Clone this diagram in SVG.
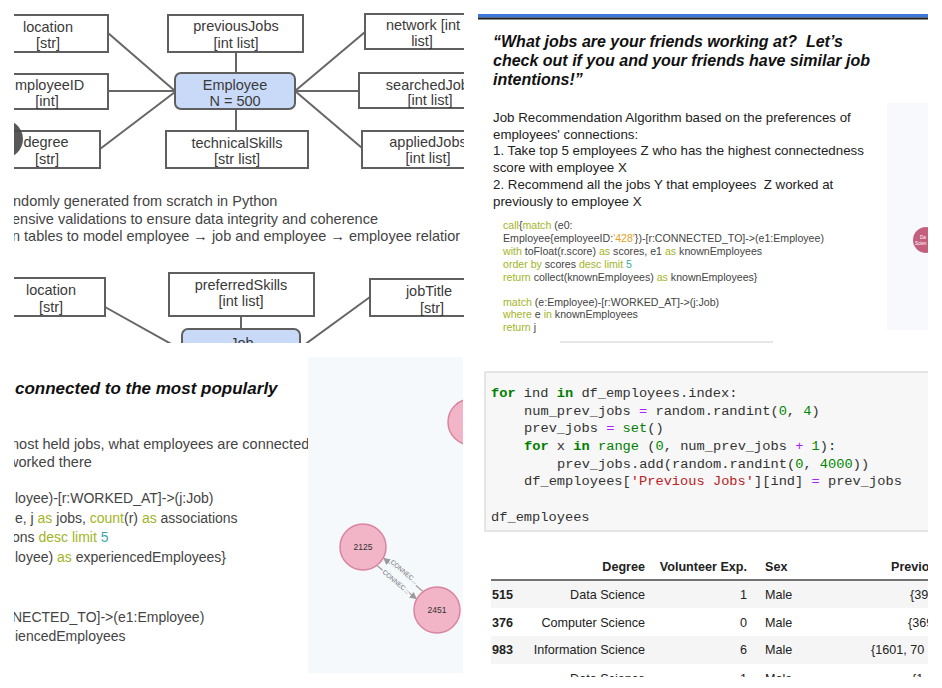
<svg xmlns="http://www.w3.org/2000/svg" width="942" height="688" viewBox="0 0 942 688">
<defs>
<style>
.box{fill:#fff;stroke:#5f5f5f;stroke-width:2}
.ent{fill:#c9daf8;stroke:#5f5f5f;stroke-width:2}
.lb{font-family:"Liberation Sans",Arial,sans-serif;font-size:14.5px;fill:#3a3a3a;text-anchor:middle}
.lbs{font-family:"Liberation Sans",Arial,sans-serif;font-size:14.5px;fill:#3a3a3a}
.ed{stroke:#666;stroke-width:2;fill:none}
.bul{font-family:"Liberation Sans",Arial,sans-serif;font-size:14.5px;fill:#444}
.ttl{font-family:"Liberation Sans",Arial,sans-serif;font-weight:bold;font-style:italic;fill:#111}
.body{font-family:"Liberation Sans",Arial,sans-serif;font-size:13.3px;fill:#222}
.cy{font-family:"Liberation Sans",Arial,sans-serif;fill:#444}
.k{fill:#a3b428}
.o{fill:#e2a020}
.n{fill:#3aa8a8}
.py{font-family:"Liberation Mono","DejaVu Sans Mono",monospace;font-size:13.7px;fill:#333}
.pk{fill:#008000;font-weight:bold}
.pb{fill:#008000}
.pn{fill:#080}
.po{fill:#a2f}
.ps{fill:#ba2121}
.tb{font-family:"Liberation Sans",Arial,sans-serif;font-size:12.6px;fill:#222}
.th{font-weight:bold}
.re{text-anchor:end}
.nd{fill:#f2b5c7;stroke:#d9849f;stroke-width:1.5}
.nt{font-family:"Liberation Sans",Arial,sans-serif;font-size:8.5px;fill:#333;text-anchor:middle}
.rel{stroke:#9a9a9a;stroke-width:1.2;fill:none}
.rt{font-family:"Liberation Sans",Arial,sans-serif;font-size:6.5px;fill:#777;text-anchor:middle;stroke:#f5f9fc;stroke-width:3px;paint-order:stroke}
</style>
<clipPath id="cTL"><rect x="14" y="0" width="450" height="343"/></clipPath>
<clipPath id="cTR"><rect x="478" y="0" width="450" height="343"/></clipPath>
<clipPath id="cBL"><rect x="14" y="345" width="449" height="343"/></clipPath>
<clipPath id="cBR"><rect x="478" y="345" width="450" height="332"/></clipPath>
<marker id="ah" viewBox="0 0 10 10" refX="9" refY="5" markerWidth="6" markerHeight="6" orient="auto"><path d="M0,0 L10,5 L0,10 z" fill="#9a9a9a"/></marker>
</defs>
<rect width="942" height="688" fill="#fff"/>

<!-- TOP-LEFT: schema diagrams -->
<g clip-path="url(#cTL)">
  <g id="connectors">
    <line class="ed" x1="108" y1="33" x2="175" y2="91"/>
    <line class="ed" x1="108" y1="91" x2="175" y2="91"/>
    <line class="ed" x1="100" y1="149" x2="175" y2="92"/>
    <line class="ed" x1="236" y1="52" x2="236" y2="73"/>
    <line class="ed" x1="236" y1="131" x2="236" y2="109"/>
    <line class="ed" x1="295" y1="91" x2="365" y2="32"/>
    <line class="ed" x1="295" y1="91" x2="359" y2="91"/>
    <line class="ed" x1="295" y1="91" x2="362" y2="148"/>
    <line class="ed" x1="105" y1="307" x2="182" y2="350"/>
    <line class="ed" x1="241" y1="316" x2="241" y2="329"/>
    <line class="ed" x1="370" y1="297" x2="300" y2="348"/>
  </g>
  <g id="node-location">
    <rect class="box" x="-12" y="15" width="120" height="37"/>
    <text class="lb" x="48" y="32">location</text>
    <text class="lb" x="48" y="48">[str]</text>
  </g>
  <g id="node-employeeID">
    <rect class="box" x="-12" y="74" width="120" height="35"/>
    <text class="lbs" x="15" y="90">mployeeID</text>
    <text class="lb" x="47" y="106">[int]</text>
  </g>
  <g id="node-degree">
    <rect class="box" x="-8" y="131" width="108" height="37"/>
    <text class="lb" x="46" y="147">degree</text>
    <text class="lb" x="47" y="164">[str]</text>
  </g>
  <circle cx="4" cy="139" r="19" fill="#4a4a4a" opacity="0.92"/>
  <g id="node-previousJobs">
    <rect class="box" x="168" y="15" width="135" height="37"/>
    <text class="lb" x="236" y="31">previousJobs</text>
    <text class="lb" x="236" y="48">[int list]</text>
  </g>
  <g id="node-employee">
    <rect class="ent" x="175" y="73" width="120" height="36" rx="6"/>
    <text class="lb" x="235" y="90">Employee</text>
    <text class="lb" x="235" y="106">N = 500</text>
  </g>
  <g id="node-technicalSkills">
    <rect class="box" x="166" y="131" width="142" height="37"/>
    <text class="lb" x="237" y="148">technicalSkills</text>
    <text class="lb" x="237" y="164">[str list]</text>
  </g>
  <g id="node-network">
    <rect class="box" x="365" y="14" width="114" height="35"/>
    <text class="lb" x="423" y="30">network [int</text>
    <text class="lb" x="422" y="46">list]</text>
  </g>
  <g id="node-searchedJobs">
    <rect class="box" x="359" y="73" width="144" height="35"/>
    <text class="lb" x="431" y="90">searchedJobs</text>
    <text class="lb" x="430" y="105">[int list]</text>
  </g>
  <g id="node-appliedJobs">
    <rect class="box" x="362" y="131" width="132" height="37"/>
    <text class="lb" x="428" y="147">appliedJobs</text>
    <text class="lb" x="428" y="163">[int list]</text>
  </g>
  <text class="bul" x="13" y="206">ndomly generated from scratch in Python</text>
  <text class="bul" x="12" y="224">ensive validations to ensure data integrity and coherence</text>
  <text class="bul" x="12" y="241">n tables to model employee → job and employee → employee relatior</text>
  <g id="node-job-location">
    <rect class="box" x="-12" y="278" width="117" height="38"/>
    <text class="lb" x="51" y="295">location</text>
    <text class="lb" x="51" y="312">[str]</text>
  </g>
  <g id="node-preferredSkills">
    <rect class="box" x="169" y="273" width="145" height="43"/>
    <text class="lb" x="241" y="290">preferredSkills</text>
    <text class="lb" x="241" y="306">[int list]</text>
  </g>
  <g id="node-job">
    <rect class="ent" x="182" y="329" width="118" height="40" rx="6"/>
    <text class="lb" x="242" y="348">Job</text>
  </g>
  <g id="node-jobTitle">
    <rect class="box" x="370" y="279" width="130" height="37"/>
    <text class="lb" x="429" y="296">jobTitle</text>
    <text class="lb" x="432" y="313">[str]</text>
  </g>
</g>

<!-- TOP-RIGHT: slide -->
<g clip-path="url(#cTR)">
  <rect x="478" y="14" width="450" height="3.5" fill="#3c78d8"/>
  <rect x="478" y="17.5" width="450" height="2" fill="#1f1f1f"/>
  <text class="ttl" font-size="16px"><tspan x="493" y="47">“What jobs are your friends working at?&#160; Let’s</tspan><tspan x="493" y="66">check out if you and your friends have similar job</tspan><tspan x="493" y="85">intentions!”</tspan></text>
  <text class="body"><tspan x="493" y="122">Job Recommendation Algorithm based on the preferences of</tspan><tspan x="493" y="138.7">employees' connections:</tspan><tspan x="493" y="155.4">1. Take top 5 employees Z who has the highest connectedness</tspan><tspan x="493" y="172.1">score with employee X</tspan><tspan x="493" y="188.8">2. Recommend all the jobs Y that employees&#160; Z worked at</tspan><tspan x="493" y="205.5">previously to employee X</tspan></text>
  <g class="cy" font-size="10.6px">
    <text x="503" y="228.5"><tspan class="k">call</tspan>{<tspan class="k">match</tspan> (e0:</text>
    <text x="503" y="241.5">Employee{employeeID:<tspan class="o">'428'</tspan>})-[r:CONNECTED_TO]-&gt;(e1:Employee)</text>
    <text x="503" y="255"><tspan class="k">with</tspan> toFloat(r.score) <tspan class="k">as</tspan> scores, e1 <tspan class="k">as</tspan> knownEmployees</text>
    <text x="503" y="268"><tspan class="k">order by</tspan> scores <tspan class="k">desc limit</tspan> <tspan class="n">5</tspan></text>
    <text x="503" y="280.5"><tspan class="k">return</tspan> collect(knownEmployees) <tspan class="k">as</tspan> knownEmployees}</text>
    <text x="503" y="305.5"><tspan class="k">match</tspan> (e:Employee)-[r:WORKED_AT]-&gt;(j:Job)</text>
    <text x="503" y="318"><tspan class="k">where</tspan> e <tspan class="k">in</tspan> knownEmployees</text>
    <text x="503" y="330.5"><tspan class="k">return</tspan> j</text>
  </g>
  <line x1="560" y1="342" x2="773" y2="342" stroke="#cfcfcf" stroke-width="1"/>
  <rect x="887" y="103" width="41" height="227" fill="#f7f9fc"/>
  <g id="node-datascience">
    <circle cx="926" cy="240" r="13" fill="#c4607e"/>
    <text x="920" y="239" font-family="Liberation Sans, Arial, sans-serif" font-size="4.5px" fill="#fff">Da</text>
    <text x="915" y="245" font-family="Liberation Sans, Arial, sans-serif" font-size="4.5px" fill="#fff">Scien</text>
  </g>
</g>

<!-- BOTTOM-LEFT: slide with graph -->
<g clip-path="url(#cBL)">
  <text class="ttl" font-size="17px" x="15" y="394">connected to the most popularly</text>
  <text class="bul" font-size="14px"><tspan x="7" y="449">most held jobs, what employees are connected</tspan><tspan x="8" y="467">worked there</tspan></text>
  <g class="cy" font-size="14px">
    <text x="15" y="503">loyee)-[r:WORKED_AT]-&gt;(j:Job)</text>
    <text x="15" y="523">e, j <tspan class="k">as</tspan> jobs, <tspan class="k">count</tspan>(r) <tspan class="k">as</tspan> associations</text>
    <text x="12" y="542">ons <tspan class="k">desc limit</tspan> <tspan class="n">5</tspan></text>
    <text x="15" y="562">loyee) <tspan class="k">as</tspan> experiencedEmployees}</text>
    <text x="12" y="622">NECTED_TO]-&gt;(e1:Employee)</text>
    <text x="15" y="641">iencedEmployees</text>
  </g>
  <rect x="308" y="357" width="155" height="316" fill="#f5f9fc"/>
  <g id="graph-connectors">
    <line class="rel" x1="422.7" y1="591.3" x2="383.7" y2="558.1" marker-end="url(#ah)"/>
    <line class="rel" x1="377.3" y1="565.7" x2="416.3" y2="598.9" marker-end="url(#ah)"/>
    <text class="rt" x="404" y="574" transform="rotate(40.4 404 572)">CONNEC...</text>
    <text class="rt" x="396" y="584" transform="rotate(40.4 396 582)">CONNEC...</text>
  </g>
  <g id="node-2125">
    <circle class="nd" cx="363" cy="547" r="23"/>
    <text class="nt" x="363" y="550">2125</text>
  </g>
  <g id="node-2451">
    <circle class="nd" cx="437" cy="610" r="23"/>
    <text class="nt" x="437" y="613">2451</text>
  </g>
  <g id="node-partial">
    <circle class="nd" cx="471" cy="422" r="23"/>
    <text class="nt" x="466" y="425">2</text>
  </g>
</g>

<!-- BOTTOM-RIGHT: notebook -->
<g clip-path="url(#cBR)">
  <rect x="485" y="372" width="460" height="159" fill="#f7f7f7" stroke="#cfcfcf" stroke-width="1"/>
  <g class="py">
    <text x="491" y="397"><tspan class="pk">for</tspan> ind <tspan class="pk">in</tspan> df_employees.index:</text>
    <text x="524" y="414.7">num_prev_jobs <tspan class="po">=</tspan> random.randint(<tspan class="pn">0</tspan>, <tspan class="pn">4</tspan>)</text>
    <text x="524" y="432.3">prev_jobs <tspan class="po">=</tspan> <tspan class="pb">set</tspan>()</text>
    <text x="524" y="450"><tspan class="pk">for</tspan> x <tspan class="pk">in</tspan> <tspan class="pb">range</tspan> (<tspan class="pn">0</tspan>, num_prev_jobs <tspan class="po">+</tspan> <tspan class="pn">1</tspan>):</text>
    <text x="557" y="467.7">prev_jobs.add(random.randint(<tspan class="pn">0</tspan>, <tspan class="pn">4000</tspan>))</text>
    <text x="524" y="485.3">df_employees[<tspan class="ps">'Previous Jobs'</tspan>][ind] <tspan class="po">=</tspan> prev_jobs</text>
    <text x="491" y="520.7">df_employees</text>
  </g>
  <rect x="491" y="580" width="437" height="28" fill="#f5f5f5"/>
  <rect x="491" y="636" width="437" height="28" fill="#f5f5f5"/>
  <line x1="491" y1="580" x2="928" y2="580" stroke="#444" stroke-width="1.6"/>
  <g class="tb">
    <text class="th re" x="645" y="571">Degree</text>
    <text class="th re" x="747" y="571">Volunteer Exp.</text>
    <text class="th" x="765" y="571">Sex</text>
    <text class="th" x="891" y="571">Previo</text>
    <text class="th" x="492" y="599">515</text>
    <text class="re" x="645" y="599">Data Science</text>
    <text class="re" x="747" y="599">1</text>
    <text x="765" y="599">Male</text>
    <text x="910" y="599">{39</text>
    <text class="th" x="492" y="626.5">376</text>
    <text class="re" x="645" y="626.5">Computer Science</text>
    <text class="re" x="747" y="626.5">0</text>
    <text x="765" y="626.5">Male</text>
    <text x="908" y="626.5">{369</text>
    <text class="th" x="492" y="654">983</text>
    <text class="re" x="645" y="654">Information Science</text>
    <text class="re" x="747" y="654">6</text>
    <text x="765" y="654">Male</text>
    <text x="871" y="654">{1601, 70</text>
    <text class="re" x="645" y="682.5">Data Science</text>
    <text class="re" x="747" y="682.5">1</text>
    <text x="765" y="682.5">Male</text>
    <text x="912" y="682.5">{1</text>
  </g>
</g>
</svg>
